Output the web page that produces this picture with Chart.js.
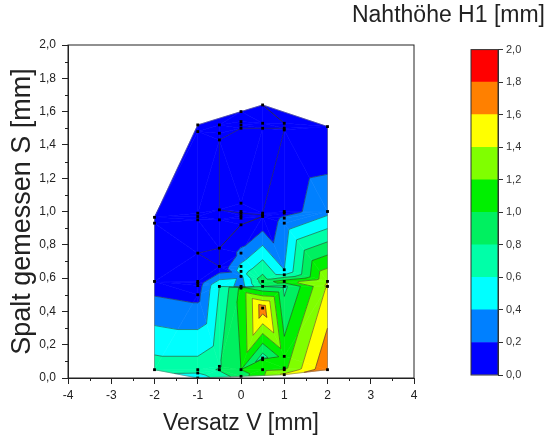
<!DOCTYPE html>
<html>
<head>
<meta charset="utf-8">
<script src="https://cdn.jsdelivr.net/npm/chart.js@4.4.1/dist/chart.umd.min.js"></script>
<style>
  body { margin: 0; background: #fff; }
  #wrap { position: relative; width: 550px; height: 437px; }
  #wrap canvas { position: absolute; top: 0; }
</style>
</head>
<body>
<div id="wrap">
  <canvas id="contour" width="550" height="437" style="left:0"></canvas>
  <canvas id="scale" width="210" height="437" style="left:340px"></canvas>
</div>
<script>
// measurement points: offset V, measured gap S, weld height H1 (all mm)
const versatzV = [
  -2, -2, -1, -1, -0.5, -0.5, -0.5, 0, 0, 0, 0, 0.5, 0.5, 0.5, 1, 1, 1, 2,
  -1, -1, -1, -0.5, -0.5, 0, 0, 0, 0, 0, 0, 0.5, 0.5, 0.5, 1, 1, 1, 1, 2,
  -2, -2, -1, -1, -1, -1, -1, -1, -1, -1,
  -0.5, -0.5, -0.5, -0.5, -0.5,
  0, 0, 0, 0, 0, 0, 0, 0,
  0.5, 0.5, 0.5, 0.5, 0.5, 0.5,
  1, 1, 1, 1, 1, 1, 1, 1,
  2, 2, 2
];
const spaltS = [
  0.965, 0.93, 1.52, 1.48, 1.52, 1.47, 1.43, 1.60, 1.54, 1.52, 1.50, 1.64, 1.53, 1.50, 1.53, 1.50, 1.49, 1.51,
  0.99, 0.97, 0.95, 1.01, 0.95, 1.05, 1.00, 0.99, 0.975, 0.96, 0.92, 0.99, 0.98, 0.97, 1.00, 0.99, 0.96, 0.93, 1.00,
  0.58, 0.05, 0.75, 0.58, 0.57, 0.555, 0.50, 0.05, 0.03, 0.00,
  0.78, 0.67, 0.55, 0.07, 0.05,
  0.75, 0.67, 0.64, 0.61, 0.55, 0.54, 0.05, 0.01,
  0.58, 0.55, 0.42, 0.12, 0.11, 0.05,
  0.65, 0.62, 0.58, 0.55, 0.13, 0.06, 0.05, 0.02,
  0.58, 0.55, 0.05
];
const nahthoeheH1 = [
  0.05, 0.05, 0.05, 0.05, 0.05, 0.05, 0, 0.05, 0.05, 0.05, 0, 0, 0.05, 0, 0, 0, 0, 0.02,
  0.05, 0.05, 0.05, 0, 0.05, 0, 0, 0, 0.05, 0.05, 0, 0, 0, 0, 0.1, 0.12, 0.25, 0.28, 0.34,
  0.1, 0.7, 0, 0.06, 0.08, 0.1, 0.14, 0.7, 0.6, 0.48,
  0, 0, 0.6, 0.78, 0.82,
  0.25, 0.45, 0.5, 0.35, 0.3, 1.05, 1.0, 0.9,
  0.9, 0.8, 1.72, 0.7, 1.15, 1.15,
  0.4, 0.6, 1.1, 0.75, 1.1, 1.15, 1.2, 1.45,
  1.4, 1.42, 1.78
];

// contour levels (also the colour scale ticks)
const h1Levels = [0, 0.2, 0.4, 0.6, 0.8, 1.0, 1.2, 1.4, 1.6, 1.8, 2.0];
const bandColors = ['#0000FF', '#0080FF', '#00FFFF', '#00FFA8', '#00F060',
                    '#00F000', '#80FF00', '#FFFF00', '#FF8000', '#FF0000'];

const FONT = "'Liberation Sans', Arial, sans-serif";
const TEXT = '#222';
const comma = v => Number(v).toFixed(1).replace('.', ',');

// Bowyer-Watson triangulation in data units
function circumcircle(p, t) {
  const a = p[t[0]], b = p[t[1]], c = p[t[2]];
  const d = 2 * (a.x * (b.y - c.y) + b.x * (c.y - a.y) + c.x * (a.y - b.y));
  if (Math.abs(d) < 1e-14) return { x: 0, y: 0, r2: Infinity };
  const a2 = a.x * a.x + a.y * a.y, b2 = b.x * b.x + b.y * b.y, c2 = c.x * c.x + c.y * c.y;
  const x = (a2 * (b.y - c.y) + b2 * (c.y - a.y) + c2 * (a.y - b.y)) / d;
  const y = (a2 * (c.x - b.x) + b2 * (a.x - c.x) + c2 * (b.x - a.x)) / d;
  return { x, y, r2: (a.x - x) ** 2 + (a.y - y) ** 2 };
}

function triangulate(xs, ys) {
  const n = xs.length;
  const p = xs.map((v, i) => ({ x: v, y: ys[i] - 0.8 }));
  const big = 500;
  p.push({ x: -big, y: -big }, { x: big, y: -big }, { x: 0, y: big });
  let tris = [[n, n + 1, n + 2]];
  tris[0].c = circumcircle(p, tris[0]);
  for (let i = 0; i < n; i++) {
    const q = p[i];
    const keep = [], edges = [];
    for (const t of tris) {
      const c = t.c;
      if ((q.x - c.x) ** 2 + (q.y - c.y) ** 2 < c.r2) {
        for (let k = 0; k < 3; k++) {
          const a = t[k], b = t[(k + 1) % 3];
          const j = edges.findIndex(e => e[0] === b && e[1] === a);
          if (j >= 0) edges.splice(j, 1); else edges.push([a, b]);
        }
      } else keep.push(t);
    }
    for (const e of edges) {
      const t = [e[0], e[1], i];
      t.c = circumcircle(p, t);
      keep.push(t);
    }
    tris = keep;
  }
  return tris.filter(t => t[0] < n && t[1] < n && t[2] < n);
}
const triangles = triangulate(versatzV, spaltS);

function hull(pts) {
  const s = pts.slice().sort((a, b) => a.px - b.px || a.py - b.py);
  const cross = (o, a, b) => (a.px - o.px) * (b.py - o.py) - (a.py - o.py) * (b.px - o.px);
  const lo = [], up = [];
  for (const q of s) { while (lo.length > 1 && cross(lo[lo.length - 2], lo[lo.length - 1], q) <= 0) lo.pop(); lo.push(q); }
  for (const q of s.reverse()) { while (up.length > 1 && cross(up[up.length - 2], up[up.length - 1], q) <= 0) up.pop(); up.push(q); }
  return lo.slice(0, -1).concat(up.slice(0, -1));
}

// keep the part of a polygon above (or below) a level, linear in z
function clipZ(poly, level, keepAbove) {
  const out = [];
  for (let i = 0; i < poly.length; i++) {
    const a = poly[i], b = poly[(i + 1) % poly.length];
    const ina = keepAbove ? a.z >= level : a.z <= level;
    const inb = keepAbove ? b.z >= level : b.z <= level;
    if (ina) out.push(a);
    if (ina !== inb) {
      const t = (level - a.z) / (b.z - a.z);
      out.push({ px: a.px + t * (b.px - a.px), py: a.py + t * (b.py - a.py), z: level });
    }
  }
  return out;
}

const contourFill = {
  id: 'contourFill',
  beforeDatasetsDraw(chart) {
    const { ctx, chartArea: area, scales: { x, y } } = chart;
    const pts = versatzV.map((v, i) => ({
      px: x.getPixelForValue(v), py: y.getPixelForValue(spaltS[i]), z: nahthoeheH1[i]
    }));
    const tris = triangles.map(t => t.map(k => pts[k]));
    ctx.save();
    ctx.beginPath();
    ctx.rect(area.left, area.top, area.right - area.left, area.bottom - area.top);
    ctx.clip();
    ctx.lineJoin = 'round';

    // filled bands
    for (const tri of tris) {
      bandColors.forEach((col, b) => {
        let poly = tri;
        if (b > 0) poly = clipZ(poly, h1Levels[b], true);
        if (b < bandColors.length - 1 && poly.length) poly = clipZ(poly, h1Levels[b + 1], false);
        if (poly.length < 3) return;
        ctx.beginPath();
        poly.forEach((q, k) => k ? ctx.lineTo(q.px, q.py) : ctx.moveTo(q.px, q.py));
        ctx.closePath();
        ctx.fillStyle = col;
        ctx.strokeStyle = col;
        ctx.lineWidth = 0.6;
        ctx.fill();
        ctx.stroke();
      });
    }

    // contour lines
    ctx.strokeStyle = 'rgba(45,45,45,0.75)';
    ctx.lineWidth = 0.7;
    for (const L of h1Levels.slice(0, -1)) {
      ctx.beginPath();
      for (const tri of tris) {
        const seg = [];
        for (let k = 0; k < 3; k++) {
          const a = tri[k], b = tri[(k + 1) % 3];
          if ((a.z > L) !== (b.z > L)) {
            const t = (L - a.z) / (b.z - a.z);
            seg.push([a.px + t * (b.px - a.px), a.py + t * (b.py - a.py)]);
          }
        }
        if (seg.length === 2) { ctx.moveTo(seg[0][0], seg[0][1]); ctx.lineTo(seg[1][0], seg[1][1]); }
      }
      ctx.stroke();
    }

    // outline of the measured area
    const h = hull(pts);
    ctx.beginPath();
    h.forEach((q, k) => k ? ctx.lineTo(q.px, q.py) : ctx.moveTo(q.px, q.py));
    ctx.closePath();
    ctx.strokeStyle = 'rgba(110,110,110,0.7)';
    ctx.lineWidth = 0.8;
    ctx.stroke();
    ctx.restore();
  }
};

// frame around the plot plus minor ticks
const frame = {
  id: 'frame',
  afterDraw(chart) {
    const { ctx, chartArea: a, scales: { x, y } } = chart;
    ctx.save();
    ctx.strokeStyle = TEXT;
    ctx.lineWidth = 1;
    ctx.strokeRect(a.left, a.top, a.right - a.left, a.bottom - a.top);
    ctx.beginPath();
    for (let v = -3.5; v < 4; v += 1) {
      const px = Math.round(x.getPixelForValue(v)) + 0.5;
      ctx.moveTo(px, a.bottom); ctx.lineTo(px, a.bottom + 3);
    }
    for (let v = 0.1; v < 2; v += 0.2) {
      const py = Math.round(y.getPixelForValue(v)) + 0.5;
      ctx.moveTo(a.left, py); ctx.lineTo(a.left - 3, py);
    }
    ctx.stroke();
    ctx.restore();
  }
};

new Chart(document.getElementById('contour'), {
  type: 'scatter',
  data: {
    datasets: [{
      data: versatzV.map((v, i) => ({ x: v, y: spaltS[i] })),
      pointStyle: 'rect',
      pointRadius: 2,
      pointBorderWidth: 0,
      backgroundColor: '#000'
    }]
  },
  options: {
    responsive: false,
    animation: false,
    layout: { padding: { top: 45, right: 136, left: 0, bottom: 0 } },
    plugins: { legend: { display: false }, tooltip: { enabled: false } },
    scales: {
      x: {
        min: -4, max: 4,
        ticks: { stepSize: 1, font: { family: FONT, size: 12 }, color: TEXT, padding: 4, callback: v => String(v) },
        grid: { drawOnChartArea: false, tickLength: 6, tickColor: TEXT },
        border: { color: TEXT },
        title: { display: true, text: 'Versatz V [mm]', font: { family: FONT, size: 23 }, color: TEXT, padding: { top: 0, bottom: 0 } },
        afterFit(s) { s.height = 59; }
      },
      y: {
        min: 0, max: 2,
        ticks: { stepSize: 0.2, font: { family: FONT, size: 12 }, color: TEXT, padding: 6, callback: comma },
        grid: { drawOnChartArea: false, tickLength: 6, tickColor: TEXT },
        border: { color: TEXT },
        title: { display: true, text: 'Spalt gemessen S [mm]', font: { family: FONT, size: 27 }, color: TEXT, padding: { top: 6, bottom: 0 } },
        afterFit(s) { s.width = 68; }
      }
    }
  },
  plugins: [contourFill, frame]
});

// colour scale
const barFrame = {
  id: 'barFrame',
  afterDatasetsDraw(chart) {
    const { ctx, chartArea: a } = chart;
    ctx.save();
    ctx.strokeStyle = '#333';
    ctx.lineWidth = 1;
    ctx.strokeRect(a.left, a.top, a.right - a.left, a.bottom - a.top);
    ctx.restore();
  }
};

new Chart(document.getElementById('scale'), {
  type: 'bar',
  data: {
    labels: [''],
    datasets: bandColors.map((c, i) => ({
      data: [h1Levels[i + 1] - h1Levels[i]],
      backgroundColor: c,
      borderWidth: 0,
      barPercentage: 1,
      categoryPercentage: 1
    }))
  },
  options: {
    responsive: false,
    animation: false,
    layout: { padding: { top: 0, right: 5, left: 0, bottom: 62 } },
    plugins: {
      legend: { display: false },
      tooltip: { enabled: false },
      title: {
        display: true, text: 'Nahthöhe H1 [mm]', align: 'end',
        font: { family: FONT, size: 23, weight: 'normal' }, color: TEXT,
        padding: { top: 2, bottom: 20 }
      }
    },
    scales: {
      x: { stacked: true, display: false },
      y: {
        stacked: true, position: 'right', min: 0, max: 2,
        ticks: { stepSize: 0.2, font: { family: FONT, size: 11 }, color: '#333', padding: 3, callback: comma },
        grid: { drawOnChartArea: false, tickLength: 5, tickColor: '#333' },
        border: { color: '#333' },
        afterFit(s) { s.width = 47; }
      },
      yL: {
        axis: 'y', position: 'left', display: true,
        ticks: { display: false }, grid: { display: false }, border: { display: false },
        afterFit(s) { s.width = 131; }
      }
    }
  },
  plugins: [barFrame]
});
</script>
</body>
</html>
